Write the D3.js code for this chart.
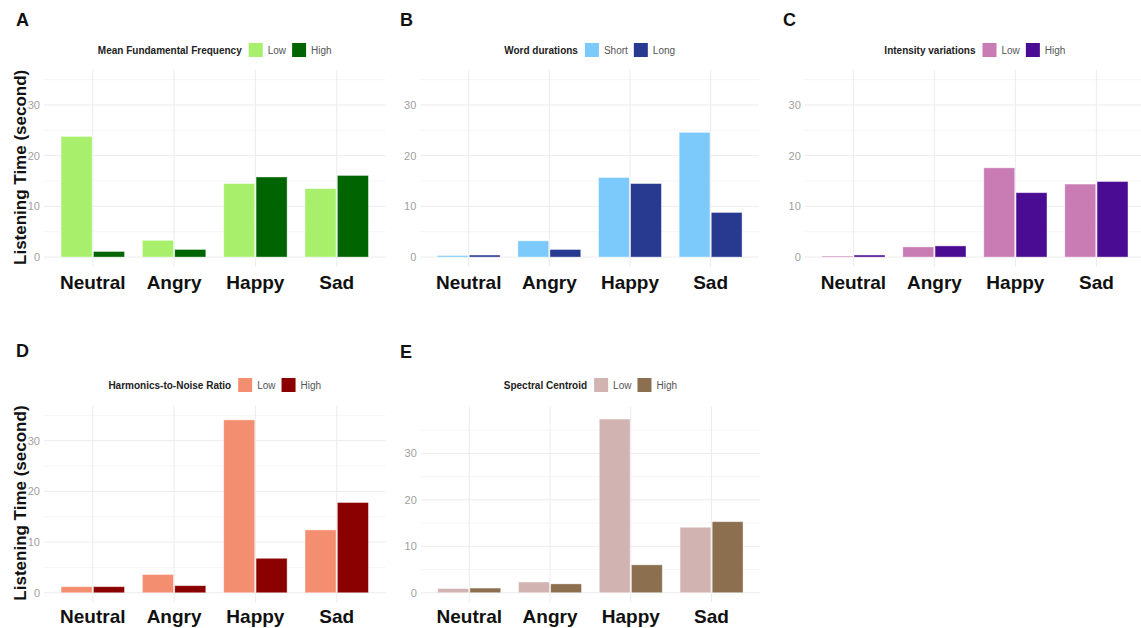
<!DOCTYPE html>
<html>
<head>
<meta charset="utf-8">
<script src="https://cdn.jsdelivr.net/npm/d3@7"></script>
<style>
  body { margin: 0; background: #fff; }
  svg { font-family: "Liberation Sans", Arial, sans-serif; }
</style>
</head>
<body>
<svg id="chart" width="1141" height="628"></svg>
<script>
// values (seconds)
var emotions = ["Neutral", "Angry", "Happy", "Sad"];
var yTicks = [0, 10, 20, 30];
var minorTicks = [5, 15, 25, 35];

var f0Low = [23.8, 3.3, 14.5, 13.5];
var f0High = [1.1, 1.5, 15.8, 16.1];
var durShort = [0.3, 3.2, 15.7, 24.6];
var durLong = [0.4, 1.5, 14.5, 8.8];
var intLow = [0.2, 2.0, 17.6, 14.4];
var intHigh = [0.4, 2.2, 12.7, 14.9];
var hnrLow = [1.2, 3.6, 34.1, 12.4];
var hnrHigh = [1.2, 1.4, 6.8, 17.8];
var centLow = [0.9, 2.3, 37.4, 14.1];
var centHigh = [1.0, 1.9, 6.0, 15.3];

var panels = [
    { letter: "A", title: "Mean Fundamental Frequency", keys: ["Low", "High"], values: [f0Low, f0High],
      colors: ["#a8f06c", "#006400"], left: 44, right: 385.5, top: 70, bottom: 266.7, ymin: -1.9, ymax: 36.9,
      lx: 16, ly: 26, legendY: 50, labelY: 32, yTitle: true },
    { letter: "B", title: "Word durations", keys: ["Short", "Long"], values: [durShort, durLong],
      colors: ["#7ccafb", "#283a8f"], left: 420.3, right: 759, top: 70, bottom: 266.7, ymin: -1.9, ymax: 36.9,
      lx: 400, ly: 26, legendY: 50, labelY: 32, yTitle: false },
    { letter: "C", title: "Intensity variations", keys: ["Low", "High"], values: [intLow, intHigh],
      colors: ["#c97bb4", "#4b0c94"], left: 804.8, right: 1145, top: 70, bottom: 266.7, ymin: -1.9, ymax: 36.9,
      lx: 783, ly: 26, legendY: 50, labelY: 32, yTitle: false },
    { letter: "D", title: "Harmonics-to-Noise Ratio", keys: ["Low", "High"], values: [hnrLow, hnrHigh],
      colors: ["#f48e70", "#8b0000"], left: 44, right: 385.5, top: 405.7, bottom: 602.4, ymin: -1.9, ymax: 36.9,
      lx: 16, ly: 357, legendY: 385, labelY: 30, yTitle: true },
    { letter: "E", title: "Spectral Centroid", keys: ["Low", "High"], values: [centLow, centHigh],
      colors: ["#d1b3b1", "#8c6f4f"], left: 420.8, right: 760, top: 407, bottom: 602, ymin: -2.0, ymax: 40.0,
      lx: 400, ly: 358, legendY: 385, labelY: 30, yTitle: false }
];

var svg = d3.select("#chart");

panels.forEach(function (p) {
    var g = svg.append("g");

    // ggplot style: 0.6 of a step on each side of the outer categories
    var step = (p.right - p.left) / (emotions.length - 1 + 1.2);
    var x = d3.scaleBand()
        .domain(emotions)
        .range([p.left + 0.6 * step - step / 2, p.right - 0.6 * step + step / 2])
        .padding(0);

    var groupW = step * 0.78;
    var x1 = d3.scaleBand()
        .domain(p.keys)
        .range([-groupW / 2, groupW / 2])
        .paddingInner(0.04);

    var y = d3.scaleLinear()
        .domain([p.ymin, p.ymax])
        .range([p.bottom, p.top]);

    // grid
    g.selectAll(".minor")
        .data(minorTicks.filter((t) => t < p.ymax))
        .enter().append("line")
        .attr("x1", p.left).attr("x2", p.right)
        .attr("y1", (d) => y(d)).attr("y2", (d) => y(d))
        .attr("stroke", "#f3f3f3").attr("stroke-width", 0.8);
    g.selectAll(".major")
        .data(yTicks)
        .enter().append("line")
        .attr("x1", p.left).attr("x2", p.right)
        .attr("y1", (d) => y(d)).attr("y2", (d) => y(d))
        .attr("stroke", "#ececec").attr("stroke-width", 1);
    g.selectAll(".vgrid")
        .data(emotions)
        .enter().append("line")
        .attr("x1", (d) => x(d) + x.bandwidth() / 2).attr("x2", (d) => x(d) + x.bandwidth() / 2)
        .attr("y1", p.top).attr("y2", p.bottom)
        .attr("stroke", "#ececec").attr("stroke-width", 1);

    // bars
    var rows = [];
    emotions.forEach(function (e, i) {
        p.keys.forEach(function (k, j) {
            rows.push({ emotion: e, key: k, value: p.values[j][i], color: p.colors[j] });
        });
    });
    g.selectAll(".bar")
        .data(rows)
        .enter().append("rect")
        .attr("x", (d) => x(d.emotion) + x.bandwidth() / 2 + x1(d.key))
        .attr("width", x1.bandwidth())
        .attr("y", (d) => y(d.value))
        .attr("height", (d) => y(0) - y(d.value))
        .attr("fill", (d) => d.color)
        .attr("stroke", "#ffffff")
        .attr("stroke-opacity", 0.5)
        .attr("stroke-width", 0.8);

    // y axis labels
    var yAxis = g.append("g")
        .attr("transform", "translate(" + p.left + ",0)")
        .call(d3.axisLeft(y).tickValues(yTicks).tickSize(0).tickPadding(4));
    yAxis.select(".domain").remove();
    yAxis.selectAll("text")
        .attr("fill", "#a0a0a0")
        .style("font-size", "11px")
        .style("font-family", "Liberation Sans, Arial, sans-serif");

    // x axis labels
    var xAxis = g.append("g")
        .attr("transform", "translate(0," + y(0) + ")")
        .call(d3.axisBottom(x).tickSize(0).tickPadding(0));
    xAxis.select(".domain").remove();
    xAxis.selectAll("text")
        .attr("dy", null)
        .attr("y", p.labelY)
        .attr("fill", "#111")
        .style("font-size", "19px")
        .style("font-weight", "bold")
        .style("font-family", "Liberation Sans, Arial, sans-serif");

    if (p.yTitle) {
        g.append("text")
            .attr("transform", "translate(26," + ((p.top + p.bottom) / 2 - 1) + ") rotate(-90)")
            .attr("text-anchor", "middle")
            .attr("fill", "#111")
            .style("font-size", "17px")
            .style("font-weight", "bold")
            .text("Listening Time (second)");
    }

    // panel letter
    g.append("text")
        .attr("x", p.lx)
        .attr("y", p.ly)
        .attr("fill", "#111")
        .style("font-size", "18px")
        .style("font-weight", "bold")
        .text(p.letter);

    // legend, centred over the plot
    var leg = g.append("g");
    var cx = 0;
    var t = leg.append("text")
        .attr("x", cx).attr("y", p.legendY + 3.5)
        .attr("fill", "#222")
        .style("font-size", "10px")
        .style("font-weight", "bold")
        .text(p.title);
    cx += t.node().getComputedTextLength() + 7;
    p.keys.forEach(function (k, j) {
        leg.append("rect")
            .attr("x", cx).attr("y", p.legendY - 7)
            .attr("width", 14).attr("height", 14)
            .attr("fill", p.colors[j]);
        cx += 19;
        var lt = leg.append("text")
            .attr("x", cx).attr("y", p.legendY + 3.5)
            .attr("fill", "#555")
            .style("font-size", "10px")
            .text(k);
        cx += lt.node().getComputedTextLength() + 6;
    });
    var legW = cx - 6;
    var plotCenter = (p.left + p.right) / 2;
    leg.attr("transform", "translate(" + (plotCenter - legW / 2) + ",0)");
});
</script>
</body>
</html>
